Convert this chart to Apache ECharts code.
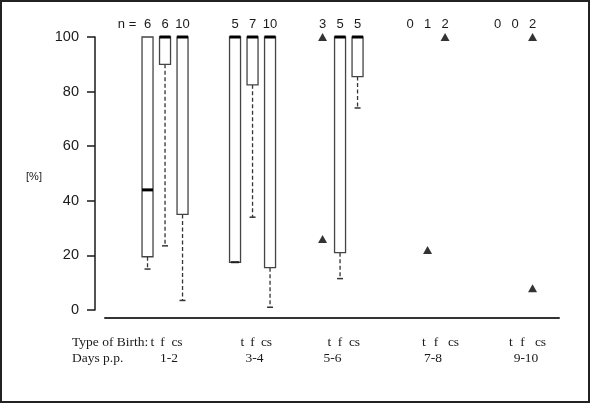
<!DOCTYPE html>
<html><head><meta charset="utf-8">
<script src="https://cdn.jsdelivr.net/npm/echarts@6/dist/echarts.min.js"></script>
<style>html,body{margin:0;padding:0;background:#fff}#c{width:590px;height:403px}</style>
</head><body><div id="c"></div>
<script>
// ---- data ----
const days = ['1-2', '3-4', '5-6', '7-8', '9-10'];
const birthTypes = ['t', 'f', 'cs'];
const nCounts = [[6, 6, 10], [5, 7, 10], [3, 5, 5], [0, 1, 2], [0, 0, 2]];
// [dayIndex, typeIndex, min, q1, median, q3, max]
const boxStats = [
  [0, 0, 15, 19.5, 44, 100, 100],
  [0, 1, 23.5, 90, 100, 100, 100],
  [0, 2, 3.5, 35, 100, 100, 100],
  [1, 0, 17.5, 17.5, 100, 100, 100],
  [1, 1, 34, 82.5, 100, 100, 100],
  [1, 2, 1, 15.5, 100, 100, 100],
  [2, 1, 11.5, 21, 100, 100, 100],
  [2, 2, 74, 85.5, 100, 100, 100]
];
// [dayIndex, typeIndex, value]  single observations
const singlePoints = [[2, 0, 100], [2, 0, 26], [3, 1, 22], [3, 2, 100], [4, 2, 100], [4, 2, 8]];
const yTicks = [0, 20, 40, 60, 80, 100];

// ---- layout helpers ----
const slot = (d, t) => d * 5 + t;
const INK = '#1a1a1a';

const boxData = boxStats.map(r => [slot(r[0], r[1]), r[2], r[3], r[4], r[5], r[6]]);
const pointData = singlePoints.map(r => [slot(r[0], r[1]), r[2]]);
const nData = [];
nCounts.forEach((row, d) => row.forEach((n, t) => nData.push([slot(d, t), 100, n])));

function renderBox(params, api) {
  const x = api.value(0);
  const mn = api.value(1), q1 = api.value(2), md = api.value(3), q3 = api.value(4), mx = api.value(5);
  const pMn = api.coord([x, mn]), pQ1 = api.coord([x, q1]), pMd = api.coord([x, md]);
  const pQ3 = api.coord([x, q3]), pMx = api.coord([x, mx]);
  const cx = pQ1[0], hw = 5.5, cap = 3;
  const ch = [];
  if (mn < q1) {
    ch.push({type: 'line', shape: {x1: cx, y1: pQ1[1], x2: cx, y2: pMn[1]},
      style: {stroke: '#333', lineWidth: 1.3, lineDash: [4, 2.5]}});
  }
  if (mx > q3) {
    ch.push({type: 'line', shape: {x1: cx, y1: pQ3[1], x2: cx, y2: pMx[1]},
      style: {stroke: '#333', lineWidth: 1.3, lineDash: [4, 2.5]}});
  }
  ch.push({type: 'rect', shape: {x: cx - hw, y: pQ3[1], width: 2 * hw, height: pQ1[1] - pQ3[1]},
    style: {fill: '#fff', stroke: '#444', lineWidth: 1.3}});
  if (mn < q1) {
    ch.push({type: 'line', shape: {x1: cx - cap, y1: pMn[1], x2: cx + cap, y2: pMn[1]},
      style: {stroke: '#333', lineWidth: 1.5}});
  } else {
    ch.push({type: 'line', shape: {x1: cx - 4, y1: pMn[1], x2: cx + 4, y2: pMn[1]},
      style: {stroke: '#222', lineWidth: 2}});
  }
  ch.push({type: 'line', shape: {x1: cx - hw, y1: pMd[1], x2: cx + hw, y2: pMd[1]},
    style: {stroke: '#000', lineWidth: 3}});
  return {type: 'group', children: ch};
}

function renderN(params, api) {
  const p = api.coord([api.value(0), api.value(1)]);
  return {type: 'text', x: p[0], y: p[1] - 13,
    style: {text: String(api.value(2)), fill: INK, font: '13px "Liberation Sans", Arial, sans-serif',
      align: 'center', verticalAlign: 'middle'}};
}

// bottom text (hand placed in the original figure)
const serif = '13.5px "Liberation Serif", "Times New Roman", serif';
const typeLabelX = [[152.5, 162.5, 177], [242.5, 252.5, 266.5], [329.5, 340, 354.5], [424, 436, 453.5], [511, 522.5, 540.5]];
const dayLabelX = [169, 254.5, 332.5, 433, 526];
const graphics = [
  {type: 'rect', shape: {x: 1, y: 1, width: 588, height: 401}, style: {fill: 'none', stroke: '#222', lineWidth: 2}},
  {type: 'text', x: 34, y: 177, style: {text: '[%]', fill: INK, font: '11px "Liberation Sans", Arial, sans-serif', align: 'center', verticalAlign: 'middle'}},
  {type: 'text', x: 127, y: 24, style: {text: 'n =', fill: INK, font: '13px "Liberation Sans", Arial, sans-serif', align: 'center', verticalAlign: 'middle'}},
  {type: 'text', x: 72, y: 342, style: {text: 'Type of Birth:', fill: INK, font: serif, align: 'left', verticalAlign: 'middle'}},
  {type: 'text', x: 72, y: 358, style: {text: 'Days p.p.', fill: INK, font: serif, align: 'left', verticalAlign: 'middle'}}
];
typeLabelX.forEach(row => row.forEach((x, t) => graphics.push(
  {type: 'text', x: x, y: 342, style: {text: birthTypes[t], fill: INK, font: serif, align: 'center', verticalAlign: 'middle'}})));
dayLabelX.forEach((x, d) => graphics.push(
  {type: 'text', x: x, y: 358, style: {text: days[d], fill: INK, font: serif, align: 'center', verticalAlign: 'middle'}}));

const chart = echarts.init(document.getElementById('c'), null, {renderer: 'canvas'});
chart.setOption({
  animation: false,
  backgroundColor: '#fff',
  grid: {left: 105, right: 31, top: 37, bottom: 93},
  xAxis: {
    type: 'value', min: -2.43, max: 23.51, offset: 8, position: 'bottom',
    axisLine: {show: true, onZero: false, lineStyle: {color: '#333', width: 2}},
    axisTick: {show: false}, axisLabel: {show: false}, splitLine: {show: false}
  },
  yAxis: {
    type: 'value', min: yTicks[0], max: yTicks[yTicks.length - 1], interval: 20, offset: 10, position: 'left',
    axisLine: {show: true, onZero: false, lineStyle: {color: INK, width: 1.5}},
    axisTick: {show: true, length: 8, lineStyle: {color: INK, width: 1.5}},
    axisLabel: {margin: 16, color: INK, fontSize: 14.5, fontFamily: '"Liberation Sans", Arial, sans-serif'},
    splitLine: {show: false}
  },
  series: [
    {type: 'custom', renderItem: renderBox, data: boxData, encode: {x: 0, y: [1, 2, 3, 4, 5]}, clip: false},
    {type: 'scatter', data: pointData, symbol: 'triangle', symbolSize: [9, 8], itemStyle: {color: '#000'}, z: 5},
    {type: 'custom', renderItem: renderN, data: nData, encode: {x: 0, y: 1}, clip: false}
  ],
  graphic: graphics
});
</script></body></html>
